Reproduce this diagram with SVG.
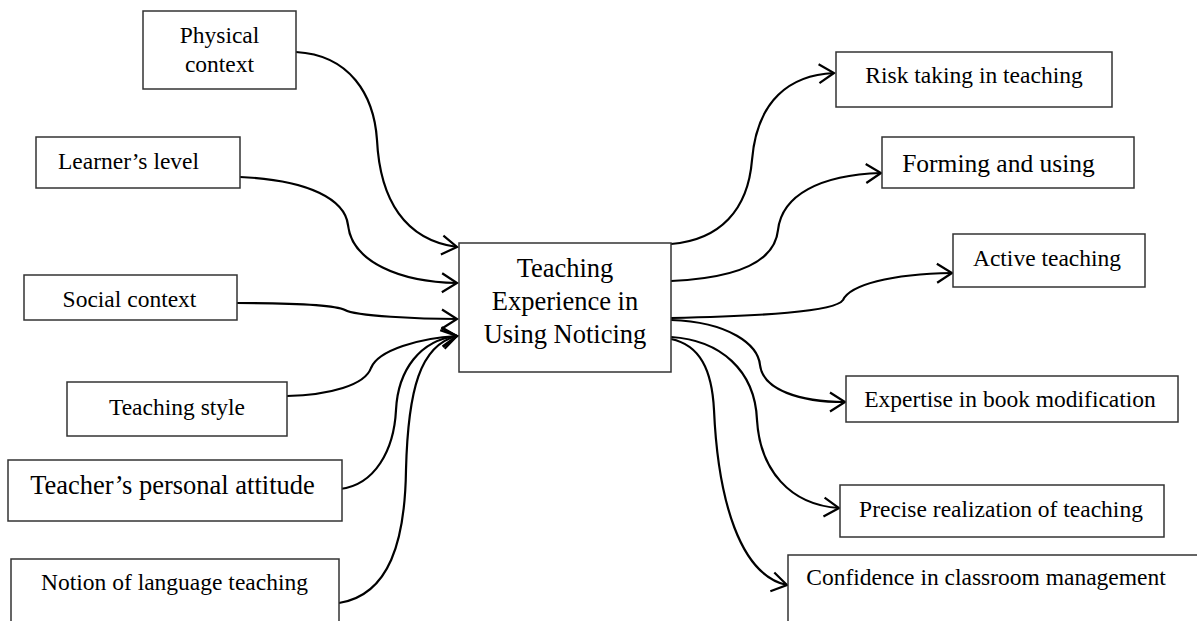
<svg xmlns="http://www.w3.org/2000/svg" width="1197" height="621" viewBox="0 0 1197 621">
<style>
.box{fill:#fff;stroke:#333;stroke-width:1.5}
.t{font-family:"Liberation Serif","Times New Roman",serif;font-size:23.5px;fill:#000;text-anchor:middle}
.big{font-size:26.5px}
.mid{font-size:25.5px}
.c{fill:none;stroke:#000;stroke-width:2.2;marker-end:url(#arr)}
</style>
<defs>
<marker id="arr" markerUnits="userSpaceOnUse" viewBox="-16 -11 18 22" markerWidth="18" markerHeight="22" refX="0" refY="0" orient="auto" overflow="visible">
<path d="M-15,-9.5 L0,0 L-15,9.5" fill="none" stroke="#000" stroke-width="2.2"/>
</marker>
</defs>
<rect width="1197" height="621" fill="#fff"/>
<g id="connectors">
<path class="c" d="M296,52 C350,55 374,95 377,140 C380,200 405,240 457,247"/>
<path class="c" d="M240,177 C310,180 345,200 348,225 C352,262 400,282 457,283"/>
<path class="c" d="M237,303 C300,303 335,305 345,310 C355,316 420,319 457,319"/>
<path class="c" d="M287,396 C330,395 365,385 371,368 C378,350 420,338 457,336"/>
<path class="c" d="M340,489 C375,485 394,450 396,410 C398,370 420,340 457,336"/>
<path class="c" d="M339,603 C390,595 405,540 406,470 C408,390 420,345 457,336"/>
<path class="c" d="M671,244 C720,240 748,210 752,160 C757,100 790,75 834,73"/>
<path class="c" d="M671,281 C740,278 775,260 778,230 C782,195 820,175 881,173"/>
<path class="c" d="M671,318 C760,316 835,312 843,300 C850,285 890,274 952,273"/>
<path class="c" d="M671,320 C730,322 758,345 760,365 C763,390 800,402 845,402"/>
<path class="c" d="M671,337 C720,340 755,370 757,420 C760,470 790,505 839,508"/>
<path class="c" d="M671,339 C700,345 712,370 714,410 C718,500 740,575 787,585"/>
</g>
<g id="physical"><rect class="box" x="143" y="11" width="153" height="78"/><text class="t" x="219.5" y="43">Physical</text><text class="t" x="219.5" y="72">context</text></g>
<g id="learner"><rect class="box" x="36" y="137" width="204" height="51"/><text class="t" x="128.5" y="169">Learner’s level</text></g>
<g id="social"><rect class="box" x="24" y="275" width="213" height="45"/><text class="t" x="129.5" y="307">Social context</text></g>
<g id="style"><rect class="box" x="67" y="382" width="220" height="54"/><text class="t" x="177" y="415">Teaching style</text></g>
<g id="attitude"><rect class="box" x="8" y="460" width="334" height="61"/><text class="t big" x="172.5" y="494">Teacher’s personal attitude</text></g>
<g id="notion"><rect class="box" x="11" y="559" width="328" height="80"/><text class="t" x="174.5" y="590">Notion of language teaching</text></g>
<g id="center"><rect class="box" x="459" y="243" width="212" height="129"/><text class="t big" x="565" y="277">Teaching</text><text class="t big" x="565" y="310">Experience in</text><text class="t big" x="565" y="343">Using Noticing</text></g>
<g id="risk"><rect class="box" x="836" y="52" width="276" height="55"/><text class="t" x="974" y="83">Risk taking in teaching</text></g>
<g id="forming"><rect class="box" x="882" y="137" width="252" height="51"/><text class="t mid" x="998.5" y="172">Forming and using</text></g>
<g id="active"><rect class="box" x="953" y="234" width="192" height="53"/><text class="t" x="1047" y="266">Active teaching</text></g>
<g id="expertise"><rect class="box" x="846" y="376" width="332" height="46"/><text class="t" x="1010" y="407">Expertise in book modification</text></g>
<g id="precise"><rect class="box" x="840" y="485" width="324" height="52"/><text class="t" x="1001" y="517">Precise realization of teaching</text></g>
<g id="confidence"><rect class="box" x="788" y="555" width="420" height="80"/><text class="t" x="986" y="585">Confidence in classroom management</text></g>
</svg>
